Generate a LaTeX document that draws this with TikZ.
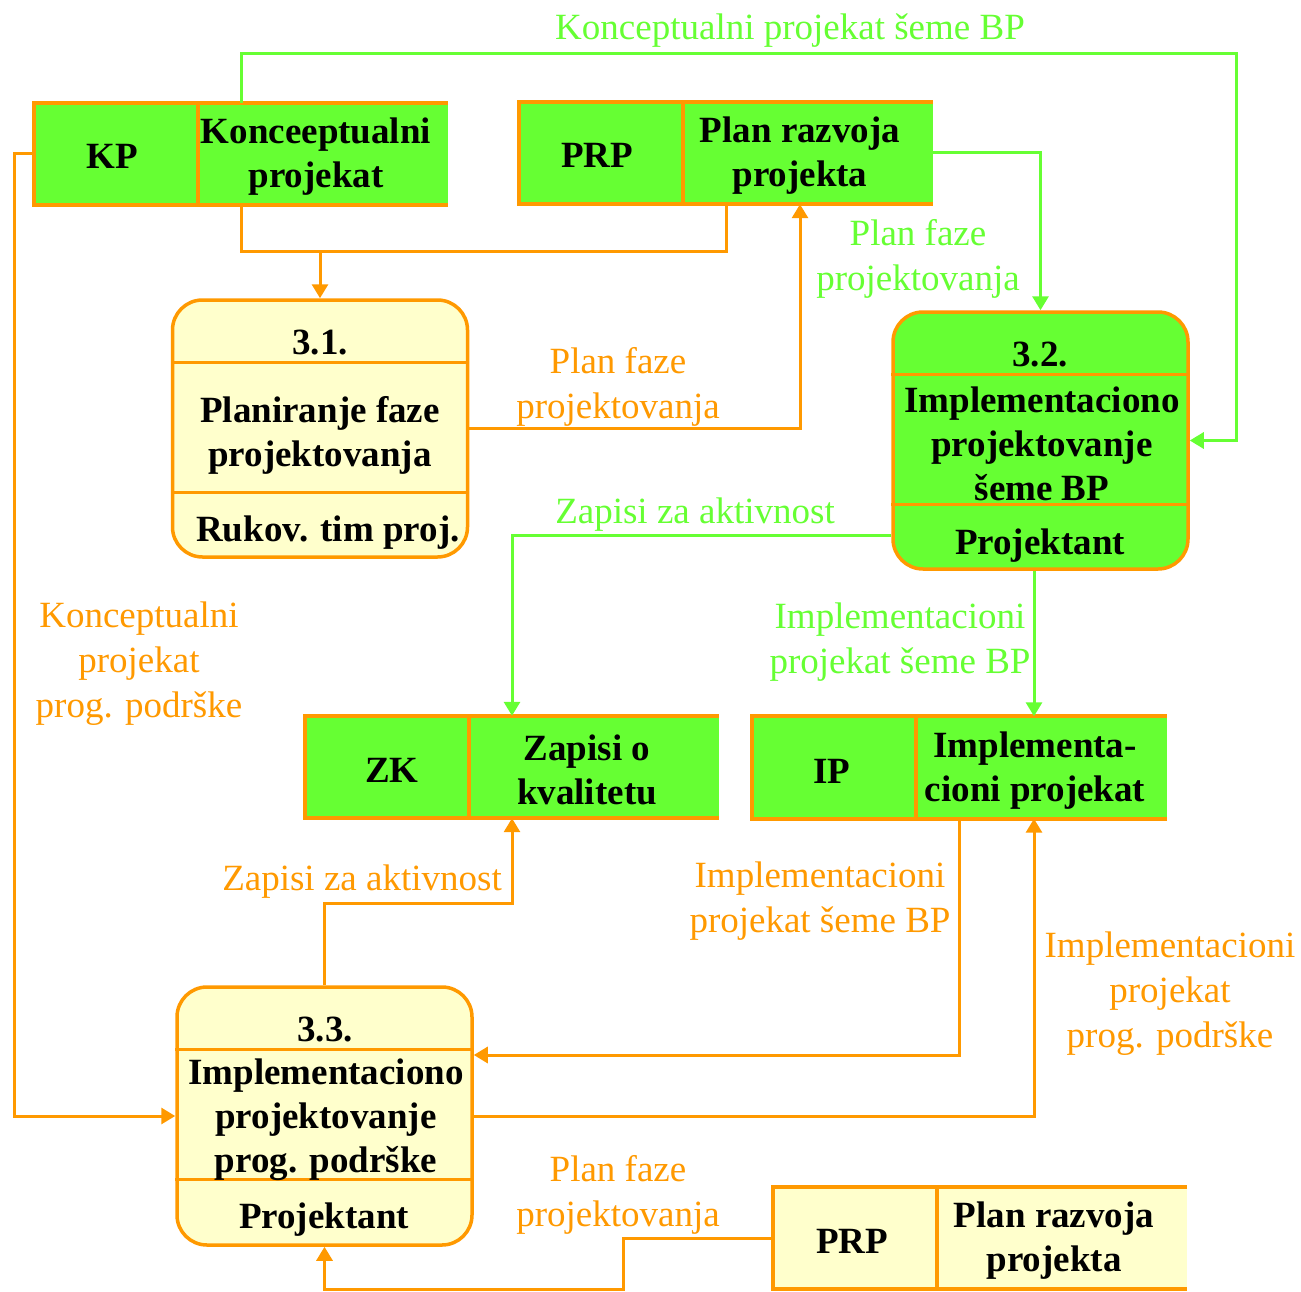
\documentclass[tikz,border=0pt]{standalone}
\usepackage{fontspec}
\setmainfont{Liberation Serif}
\usetikzlibrary{arrows.meta,calc}
\definecolor{org}{HTML}{FF9900}
\definecolor{grn}{HTML}{66FF33}
\definecolor{lyel}{HTML}{FFFFCC}
\tikzset{
  store/.style={rectangle, inner sep=0pt, minimum width=414pt, minimum height=102pt},
  storeline/.style={draw=org, line width=4pt},
  proc/.style={rectangle, rounded corners=30pt, draw=org, line width=3.5pt, inner sep=0pt, minimum width=295pt, minimum height=257pt},
  divline/.style={draw=org, line width=3.5pt},
  bt/.style={font=\fontsize{37}{44}\selectfont\bfseries, align=center, inner sep=0pt, yshift=-3pt},
  lbl/.style={font=\fontsize{37}{45}\selectfont, align=center, inner sep=0pt, yshift=-4pt},
  oline/.style={draw=org, line width=3pt},
  oflow/.style={draw=org, line width=3pt, -{Triangle[length=14pt,width=16pt]}, fill=none},
  gflow/.style={draw=grn, line width=3pt, -{Triangle[length=14pt,width=16pt]}, fill=none},
}
\newcommand\storelines[1]{%
  \draw[storeline] (#1.north east) -- (#1.north west) -- (#1.south west) -- (#1.south east);
  \draw[storeline] ($(#1.north west)+(164,0)$) -- ($(#1.south west)+(164,0)$);}
\newcommand\procdivs[1]{%
  \draw[divline] ($(#1.north west)+(0,64)$) -- ($(#1.north east)+(0,64)$);
  \draw[divline] ($(#1.north west)+(0,194)$) -- ($(#1.north east)+(0,194)$);}
\begin{document}
\begin{tikzpicture}[x=1pt,y=-1pt]
\useasboundingbox (0,0) rectangle (1301,1292);
% stores
\node[store, fill=grn] (kp) at (241,154) {};
\node[store, fill=grn] (prp) at (726,153) {};
\node[store, fill=grn] (zk) at (512,767) {};
\node[store, fill=grn] (ip) at (959.5,767.5) {};
\node[store, fill=lyel] (prp2) at (980,1238) {};
\storelines{kp}\storelines{prp}\storelines{zk}\storelines{ip}\storelines{prp2}
% processes
\node[proc, fill=lyel] (p31) at (320,428.5) {};
\node[proc, fill=grn] (p32) at (1040.5,440.5) {};
\node[proc, fill=lyel, minimum height=258pt] (p33) at (324.5,1116) {};
\procdivs{p31}\procdivs{p32}\procdivs{p33}
% store texts
\node[bt] (kpid) at (112,153) {KP};
\node[bt] (kpnm) at (316,154) {Konceeptualni\\projekat};
\node[bt] (prpid) at (597,152) {PRP};
\node[bt] (prpnm) at (800,153) {Plan razvoja\\projekta};
\node[bt] (zkid) at (392,767) {ZK};
\node[bt] (zknm) at (587,767) {Zapisi o\\kvalitetu};
\node[bt] (ipid) at (832,768) {IP};
\node[bt] (ipnm) at (1035,768) {Implementa-\\cioni projekat};
\node[bt] (prp2id) at (852,1238) {PRP};
\node[bt] (prp2nm) at (1054,1238) {Plan razvoja\\projekta};
% process texts
\node[bt] (t31a) at (320,340) {3.1.};
\node[bt] (t31b) at (320,432) {Planiranje faze\\projektovanja};
\node[bt] (t31c) at (328,530) {Rukov. tim proj.};
\node[bt] (t32a) at (1040,352) {3.2.};
\node[bt] (t32b) at (1042,441) {Implementaciono\\projektovanje\\šeme BP};
\node[bt] (t32c) at (1040,543) {Projektant};
\node[bt] (t33a) at (325,1027) {3.3.};
\node[bt] (t33b) at (326,1117) {Implementaciono\\projektovanje\\prog. podrške};
\node[bt] (t33c) at (324,1217) {Projektant};
% connectors
\draw[gflow] (kp.north) |- (1236,54) |- (p32.east);
\draw[oline] (kp.south) |- (prp.south |- 0,251) -- (prp.south);
\coordinate (j1) at (p31.north |- 0,251);
\draw[oflow] (j1) -- (p31.north);
\draw[oflow] (p31.east) -| ($(prp.south)+(74,0)$);
\draw[gflow] (prp.east) -| (p32.north);
\draw[gflow] (p32.west |- 0,535) -| (zk.north);
\coordinate (c6) at ($(ip.north)+(74.5,0)$);
\draw[gflow] (p32.south -| c6) -- (c6);
\draw[oflow] (kp.west) -| (14,1116) -- (p33.west);
\draw[oflow] (p33.north) |- (zk.south |- 0,903) -- (zk.south);
\draw[oflow] (ip.south) |- (p33.east |- 0,1055);
\draw[oflow] (p33.east) -| ($(ip.south)+(74.5,0)$);
\draw[oflow] (prp2.west) -| (623,1289) -| (p33.south);
% labels
\node[lbl, text=grn] (l1) at (790,27) {Konceptualni projekat šeme BP};
\node[lbl, text=org] (l2) at (618,383) {Plan faze\\projektovanja};
\node[lbl, text=grn] (l3) at (918,255) {Plan faze\\projektovanja};
\node[lbl, text=grn] (l4) at (695,511) {Zapisi za aktivnost};
\node[lbl, text=grn] (l5) at (900,638) {Implementacioni\\projekat šeme BP};
\node[lbl, text=org] (l6) at (139,660) {Konceptualni\\projekat\\prog. podrške};
\node[lbl, text=org] (l7) at (362,878) {Zapisi za aktivnost};
\node[lbl, text=org] (l8) at (820,897) {Implementacioni\\projekat šeme BP};
\node[lbl, text=org] (l9) at (1170,990) {Implementacioni\\projekat\\prog. podrške};
\node[lbl, text=org] (l10) at (618,1191) {Plan faze\\projektovanja};
\end{tikzpicture}
\end{document}
